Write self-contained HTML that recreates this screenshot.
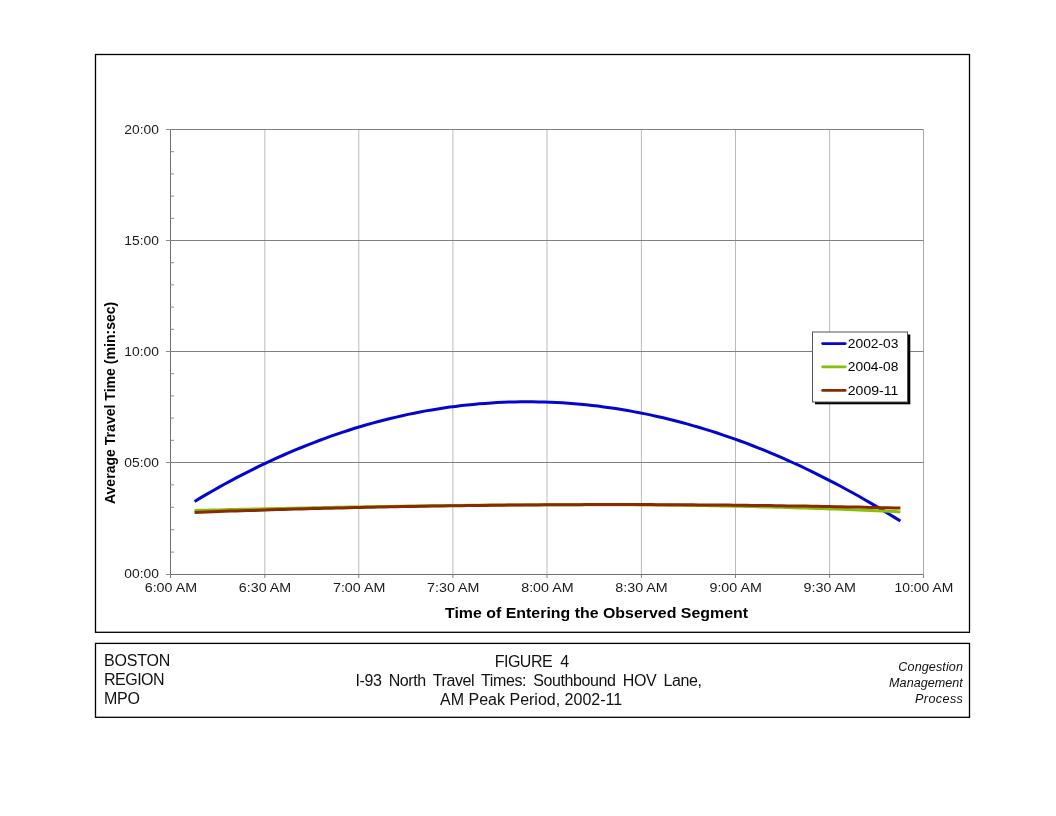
<!DOCTYPE html>
<html lang="en"><head><meta charset="utf-8"><title>Figure 4</title>
<style>
html,body{margin:0;padding:0;background:#fff;}
body{width:1056px;height:816px;position:relative;overflow:hidden;font-family:"Liberation Sans",Arial,sans-serif;color:#111;}
.t{position:absolute;white-space:pre;}
.l{left:104px;top:650.7px;font-size:16px;line-height:19.2px;}
.c{left:96px;width:873px;top:651.6px;font-size:16px;line-height:19.2px;text-align:center;}
.ln{position:relative;}
.r{right:93.1px;top:659.1px;font-size:12.6px;line-height:16px;text-align:right;font-style:italic;}
</style></head><body>
<svg width="1056" height="816" viewBox="0 0 1056 816" style="position:absolute;left:0;top:0">
<rect x="95.5" y="54.5" width="874" height="577.8" fill="#fff" stroke="#000" stroke-width="1.3"/>
<rect x="95.5" y="643.4" width="874" height="73.9" fill="#fff" stroke="#000" stroke-width="1.3"/>
<line x1="264.85" y1="129.5" x2="264.85" y2="574.5" stroke="#bababa" stroke-width="1"/>
<line x1="358.78" y1="129.5" x2="358.78" y2="574.5" stroke="#bababa" stroke-width="1"/>
<line x1="452.90" y1="129.5" x2="452.90" y2="574.5" stroke="#bababa" stroke-width="1"/>
<line x1="547.00" y1="129.5" x2="547.00" y2="574.5" stroke="#bababa" stroke-width="1"/>
<line x1="641.40" y1="129.5" x2="641.40" y2="574.5" stroke="#bababa" stroke-width="1"/>
<line x1="735.50" y1="129.5" x2="735.50" y2="574.5" stroke="#bababa" stroke-width="1"/>
<line x1="829.60" y1="129.5" x2="829.60" y2="574.5" stroke="#bababa" stroke-width="1"/>
<line x1="923.50" y1="129.5" x2="923.50" y2="574.5" stroke="#acacac" stroke-width="1"/>
<line x1="170.5" y1="129.50" x2="923.5" y2="129.50" stroke="#808080" stroke-width="1"/>
<line x1="170.5" y1="240.50" x2="923.5" y2="240.50" stroke="#808080" stroke-width="1"/>
<line x1="170.5" y1="351.50" x2="923.5" y2="351.50" stroke="#808080" stroke-width="1"/>
<line x1="170.5" y1="462.50" x2="923.5" y2="462.50" stroke="#808080" stroke-width="1"/>
<line x1="170.5" y1="129.5" x2="170.5" y2="574.5" stroke="#707070" stroke-width="1"/>
<line x1="170.5" y1="574.5" x2="923.5" y2="574.5" stroke="#707070" stroke-width="1"/>
<line x1="166.0" y1="129.50" x2="170.5" y2="129.50" stroke="#8c8c8c" stroke-width="1"/>
<line x1="170.5" y1="151.70" x2="174.0" y2="151.70" stroke="#8c8c8c" stroke-width="1"/>
<line x1="170.5" y1="173.90" x2="174.0" y2="173.90" stroke="#8c8c8c" stroke-width="1"/>
<line x1="170.5" y1="196.10" x2="174.0" y2="196.10" stroke="#8c8c8c" stroke-width="1"/>
<line x1="170.5" y1="218.30" x2="174.0" y2="218.30" stroke="#8c8c8c" stroke-width="1"/>
<line x1="166.0" y1="240.50" x2="170.5" y2="240.50" stroke="#8c8c8c" stroke-width="1"/>
<line x1="170.5" y1="262.70" x2="174.0" y2="262.70" stroke="#8c8c8c" stroke-width="1"/>
<line x1="170.5" y1="284.90" x2="174.0" y2="284.90" stroke="#8c8c8c" stroke-width="1"/>
<line x1="170.5" y1="307.10" x2="174.0" y2="307.10" stroke="#8c8c8c" stroke-width="1"/>
<line x1="170.5" y1="329.30" x2="174.0" y2="329.30" stroke="#8c8c8c" stroke-width="1"/>
<line x1="166.0" y1="351.50" x2="170.5" y2="351.50" stroke="#8c8c8c" stroke-width="1"/>
<line x1="170.5" y1="373.70" x2="174.0" y2="373.70" stroke="#8c8c8c" stroke-width="1"/>
<line x1="170.5" y1="395.90" x2="174.0" y2="395.90" stroke="#8c8c8c" stroke-width="1"/>
<line x1="170.5" y1="418.10" x2="174.0" y2="418.10" stroke="#8c8c8c" stroke-width="1"/>
<line x1="170.5" y1="440.30" x2="174.0" y2="440.30" stroke="#8c8c8c" stroke-width="1"/>
<line x1="166.0" y1="462.50" x2="170.5" y2="462.50" stroke="#8c8c8c" stroke-width="1"/>
<line x1="170.5" y1="484.90" x2="174.0" y2="484.90" stroke="#8c8c8c" stroke-width="1"/>
<line x1="170.5" y1="507.30" x2="174.0" y2="507.30" stroke="#8c8c8c" stroke-width="1"/>
<line x1="170.5" y1="529.70" x2="174.0" y2="529.70" stroke="#8c8c8c" stroke-width="1"/>
<line x1="170.5" y1="552.10" x2="174.0" y2="552.10" stroke="#8c8c8c" stroke-width="1"/>
<line x1="166.0" y1="574.50" x2="170.5" y2="574.50" stroke="#8c8c8c" stroke-width="1"/>
<line x1="170.50" y1="574.5" x2="170.50" y2="578.0" stroke="#808080" stroke-width="1"/>
<line x1="264.85" y1="574.5" x2="264.85" y2="578.0" stroke="#808080" stroke-width="1"/>
<line x1="358.78" y1="574.5" x2="358.78" y2="578.0" stroke="#808080" stroke-width="1"/>
<line x1="452.90" y1="574.5" x2="452.90" y2="578.0" stroke="#808080" stroke-width="1"/>
<line x1="547.00" y1="574.5" x2="547.00" y2="578.0" stroke="#808080" stroke-width="1"/>
<line x1="641.40" y1="574.5" x2="641.40" y2="578.0" stroke="#808080" stroke-width="1"/>
<line x1="735.50" y1="574.5" x2="735.50" y2="578.0" stroke="#808080" stroke-width="1"/>
<line x1="829.60" y1="574.5" x2="829.60" y2="578.0" stroke="#808080" stroke-width="1"/>
<line x1="923.50" y1="574.5" x2="923.50" y2="578.0" stroke="#808080" stroke-width="1"/>
<polyline points="194.6,501.5 200.5,497.9 206.5,494.4 212.4,491.0 218.3,487.6 224.3,484.3 230.2,481.1 236.1,477.9 242.0,474.8 248.0,471.8 253.9,468.8 259.8,465.9 265.8,463.1 271.7,460.3 277.6,457.6 283.6,455.0 289.5,452.4 295.4,449.9 301.4,447.5 307.3,445.1 313.2,442.8 319.2,440.5 325.1,438.3 331.0,436.2 336.9,434.1 342.9,432.1 348.8,430.2 354.7,428.3 360.7,426.5 366.6,424.8 372.5,423.1 378.5,421.5 384.4,420.0 390.3,418.5 396.3,417.1 402.2,415.7 408.1,414.4 414.1,413.2 420.0,412.0 425.9,410.9 431.8,409.9 437.8,408.9 443.7,408.0 449.6,407.1 455.6,406.4 461.5,405.6 467.4,405.0 473.4,404.4 479.3,403.8 485.2,403.4 491.2,402.9 497.1,402.6 503.0,402.3 508.9,402.1 514.9,401.9 520.8,401.8 526.7,401.8 532.7,401.8 538.6,401.9 544.5,402.0 550.5,402.2 556.4,402.5 562.3,402.8 568.3,403.2 574.2,403.7 580.1,404.2 586.1,404.8 592.0,405.4 597.9,406.1 603.8,406.9 609.8,407.7 615.7,408.6 621.6,409.5 627.6,410.5 633.5,411.6 639.4,412.7 645.4,413.9 651.3,415.1 657.2,416.5 663.2,417.8 669.1,419.2 675.0,420.7 680.9,422.3 686.9,423.9 692.8,425.6 698.7,427.3 704.7,429.1 710.6,430.9 716.5,432.8 722.5,434.8 728.4,436.8 734.3,438.9 740.3,441.0 746.2,443.2 752.1,445.5 758.1,447.8 764.0,450.2 769.9,452.6 775.8,455.1 781.8,457.7 787.7,460.3 793.6,463.0 799.6,465.7 805.5,468.5 811.4,471.4 817.4,474.3 823.3,477.3 829.2,480.3 835.2,483.4 841.1,486.5 847.0,489.7 853.0,493.0 858.9,496.3 864.8,499.7 870.7,503.1 876.7,506.6 882.6,510.1 888.5,513.7 894.5,517.4 900.4,521.1" fill="none" stroke="#0505d0" stroke-width="3" stroke-linecap="butt" stroke-linejoin="round"/>
<polyline points="194.6,510.4 200.5,510.3 206.5,510.2 212.4,510.0 218.3,509.9 224.3,509.7 230.2,509.6 236.1,509.5 242.0,509.3 248.0,509.2 253.9,509.1 259.8,508.9 265.8,508.8 271.7,508.7 277.6,508.5 283.6,508.4 289.5,508.3 295.4,508.2 301.4,508.0 307.3,507.9 313.2,507.8 319.2,507.7 325.1,507.6 331.0,507.4 336.9,507.3 342.9,507.2 348.8,507.1 354.7,507.0 360.7,506.9 366.6,506.8 372.5,506.7 378.5,506.6 384.4,506.5 390.3,506.4 396.3,506.3 402.2,506.2 408.1,506.1 414.1,506.0 420.0,505.9 425.9,505.8 431.8,505.7 437.8,505.7 443.7,505.6 449.6,505.5 455.6,505.4 461.5,505.4 467.4,505.3 473.4,505.2 479.3,505.2 485.2,505.1 491.2,505.1 497.1,505.0 503.0,505.0 508.9,504.9 514.9,504.9 520.8,504.9 526.7,504.8 532.7,504.8 538.6,504.8 544.5,504.7 550.5,504.7 556.4,504.7 562.3,504.7 568.3,504.7 574.2,504.7 580.1,504.7 586.1,504.7 592.0,504.7 597.9,504.7 603.8,504.7 609.8,504.7 615.7,504.8 621.6,504.8 627.6,504.8 633.5,504.8 639.4,504.9 645.4,504.9 651.3,505.0 657.2,505.0 663.2,505.1 669.1,505.2 675.0,505.2 680.9,505.3 686.9,505.4 692.8,505.5 698.7,505.6 704.7,505.6 710.6,505.7 716.5,505.8 722.5,506.0 728.4,506.1 734.3,506.2 740.3,506.3 746.2,506.4 752.1,506.6 758.1,506.7 764.0,506.9 769.9,507.0 775.8,507.2 781.8,507.3 787.7,507.5 793.6,507.7 799.6,507.9 805.5,508.0 811.4,508.2 817.4,508.4 823.3,508.6 829.2,508.9 835.2,509.1 841.1,509.3 847.0,509.5 853.0,509.8 858.9,510.0 864.8,510.3 870.7,510.5 876.7,510.8 882.6,511.0 888.5,511.3 894.5,511.6 900.4,511.9" fill="none" stroke="#86c008" stroke-width="3" stroke-linecap="butt" stroke-linejoin="round"/>
<polyline points="194.6,512.4 200.5,512.2 206.5,512.0 212.4,511.8 218.3,511.5 224.3,511.3 230.2,511.1 236.1,510.9 242.0,510.7 248.0,510.6 253.9,510.4 259.8,510.2 265.8,510.0 271.7,509.8 277.6,509.6 283.6,509.5 289.5,509.3 295.4,509.1 301.4,509.0 307.3,508.8 313.2,508.6 319.2,508.5 325.1,508.3 331.0,508.2 336.9,508.0 342.9,507.9 348.8,507.7 354.7,507.6 360.7,507.5 366.6,507.3 372.5,507.2 378.5,507.1 384.4,507.0 390.3,506.8 396.3,506.7 402.2,506.6 408.1,506.5 414.1,506.4 420.0,506.3 425.9,506.2 431.8,506.1 437.8,506.0 443.7,505.9 449.6,505.8 455.6,505.7 461.5,505.7 467.4,505.6 473.4,505.5 479.3,505.4 485.2,505.4 491.2,505.3 497.1,505.2 503.0,505.2 508.9,505.1 514.9,505.1 520.8,505.0 526.7,505.0 532.7,504.9 538.6,504.9 544.5,504.8 550.5,504.8 556.4,504.8 562.3,504.7 568.3,504.7 574.2,504.7 580.1,504.7 586.1,504.6 592.0,504.6 597.9,504.6 603.8,504.6 609.8,504.6 615.7,504.6 621.6,504.6 627.6,504.6 633.5,504.6 639.4,504.6 645.4,504.6 651.3,504.6 657.2,504.7 663.2,504.7 669.1,504.7 675.0,504.7 680.9,504.8 686.9,504.8 692.8,504.8 698.7,504.9 704.7,504.9 710.6,505.0 716.5,505.0 722.5,505.1 728.4,505.1 734.3,505.2 740.3,505.3 746.2,505.3 752.1,505.4 758.1,505.5 764.0,505.5 769.9,505.6 775.8,505.7 781.8,505.8 787.7,505.9 793.6,506.0 799.6,506.0 805.5,506.1 811.4,506.2 817.4,506.3 823.3,506.4 829.2,506.6 835.2,506.7 841.1,506.8 847.0,506.9 853.0,507.0 858.9,507.1 864.8,507.3 870.7,507.4 876.7,507.5 882.6,507.7 888.5,507.8 894.5,507.9 900.4,508.1" fill="none" stroke="#8a2a00" stroke-width="3" stroke-linecap="butt" stroke-linejoin="round"/>
<text x="158.9" y="134.00" text-anchor="end" font-family="Liberation Sans, Arial, sans-serif" font-size="12.6" textLength="34.6" lengthAdjust="spacingAndGlyphs" fill="#1a1a1a">20:00</text>
<text x="158.9" y="245.00" text-anchor="end" font-family="Liberation Sans, Arial, sans-serif" font-size="12.6" textLength="34.6" lengthAdjust="spacingAndGlyphs" fill="#1a1a1a">15:00</text>
<text x="158.9" y="356.00" text-anchor="end" font-family="Liberation Sans, Arial, sans-serif" font-size="12.6" textLength="34.6" lengthAdjust="spacingAndGlyphs" fill="#1a1a1a">10:00</text>
<text x="158.9" y="467.00" text-anchor="end" font-family="Liberation Sans, Arial, sans-serif" font-size="12.6" textLength="34.6" lengthAdjust="spacingAndGlyphs" fill="#1a1a1a">05:00</text>
<text x="158.9" y="578.00" text-anchor="end" font-family="Liberation Sans, Arial, sans-serif" font-size="12.6" textLength="34.6" lengthAdjust="spacingAndGlyphs" fill="#1a1a1a">00:00</text>
<text x="170.90" y="592.4" text-anchor="middle" font-family="Liberation Sans, Arial, sans-serif" font-size="12.6" textLength="52.4" lengthAdjust="spacingAndGlyphs" fill="#1a1a1a">6:00 AM</text>
<text x="265.02" y="592.4" text-anchor="middle" font-family="Liberation Sans, Arial, sans-serif" font-size="12.6" textLength="52.4" lengthAdjust="spacingAndGlyphs" fill="#1a1a1a">6:30 AM</text>
<text x="359.15" y="592.4" text-anchor="middle" font-family="Liberation Sans, Arial, sans-serif" font-size="12.6" textLength="52.4" lengthAdjust="spacingAndGlyphs" fill="#1a1a1a">7:00 AM</text>
<text x="453.27" y="592.4" text-anchor="middle" font-family="Liberation Sans, Arial, sans-serif" font-size="12.6" textLength="52.4" lengthAdjust="spacingAndGlyphs" fill="#1a1a1a">7:30 AM</text>
<text x="547.40" y="592.4" text-anchor="middle" font-family="Liberation Sans, Arial, sans-serif" font-size="12.6" textLength="52.4" lengthAdjust="spacingAndGlyphs" fill="#1a1a1a">8:00 AM</text>
<text x="641.52" y="592.4" text-anchor="middle" font-family="Liberation Sans, Arial, sans-serif" font-size="12.6" textLength="52.4" lengthAdjust="spacingAndGlyphs" fill="#1a1a1a">8:30 AM</text>
<text x="735.65" y="592.4" text-anchor="middle" font-family="Liberation Sans, Arial, sans-serif" font-size="12.6" textLength="52.4" lengthAdjust="spacingAndGlyphs" fill="#1a1a1a">9:00 AM</text>
<text x="829.77" y="592.4" text-anchor="middle" font-family="Liberation Sans, Arial, sans-serif" font-size="12.6" textLength="52.4" lengthAdjust="spacingAndGlyphs" fill="#1a1a1a">9:30 AM</text>
<text x="923.90" y="592.4" text-anchor="middle" font-family="Liberation Sans, Arial, sans-serif" font-size="12.6" textLength="58.6" lengthAdjust="spacingAndGlyphs" fill="#1a1a1a">10:00 AM</text>
<text x="596.5" y="618.2" text-anchor="middle" font-family="Liberation Sans, Arial, sans-serif" font-size="14.4" font-weight="bold" textLength="303" lengthAdjust="spacingAndGlyphs" fill="#000">Time of Entering the Observed Segment</text>
<text transform="translate(115.4,402.9) rotate(-90)" text-anchor="middle" font-family="Liberation Sans, Arial, sans-serif" font-size="15.2" font-weight="bold" textLength="202.4" lengthAdjust="spacingAndGlyphs" fill="#000">Average Travel Time (min:sec)</text>
<rect x="815" y="334.5" width="95.3" height="69.8" fill="#000"/>
<rect x="812.5" y="332" width="95" height="70" fill="#fff" stroke="#555" stroke-width="1"/>
<line x1="822.6" y1="343.6" x2="845.2" y2="343.6" stroke="#0505d0" stroke-width="2.7" stroke-linecap="round"/>
<text x="847.8" y="348.1" font-family="Liberation Sans, Arial, sans-serif" font-size="12.6" textLength="50.6" lengthAdjust="spacingAndGlyphs" fill="#000">2002-03</text>
<line x1="822.6" y1="366.8" x2="845.2" y2="366.8" stroke="#86c008" stroke-width="2.7" stroke-linecap="round"/>
<text x="847.8" y="371.3" font-family="Liberation Sans, Arial, sans-serif" font-size="12.6" textLength="50.6" lengthAdjust="spacingAndGlyphs" fill="#000">2004-08</text>
<line x1="822.6" y1="390.4" x2="845.2" y2="390.4" stroke="#8a2a00" stroke-width="2.7" stroke-linecap="round"/>
<text x="847.8" y="394.9" font-family="Liberation Sans, Arial, sans-serif" font-size="12.6" textLength="50.6" lengthAdjust="spacingAndGlyphs" fill="#000">2009-11</text>
</svg>
<div class="t l"><span style="letter-spacing:-0.2px">BOSTON</span>
<span style="letter-spacing:-0.5px">REGION</span>
<span style="letter-spacing:-0.3px">MPO</span></div>
<div class="t c"><span class="ln" style="left:-0.8px;letter-spacing:-0.48px;word-spacing:4.2px">FIGURE 4</span>
<span class="ln" style="left:-4px;letter-spacing:-0.4px;word-spacing:3.17px">I-93 North Travel Times: Southbound HOV Lane,</span>
<span class="ln" style="left:-1.4px">AM Peak Period, 2002-11</span></div>
<div class="t r"><span style="letter-spacing:0.09px;margin-right:-0.09px">Congestion</span>
<span style="letter-spacing:0.03px">Management</span>
<span style="letter-spacing:0.4px;margin-right:-0.4px">Process</span></div>
</body></html>
